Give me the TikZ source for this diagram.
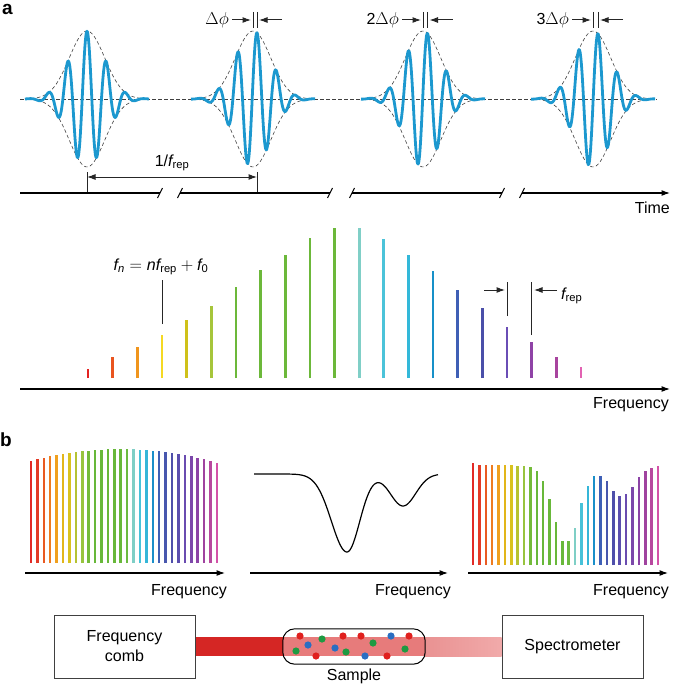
\documentclass[tikz,border=0pt]{standalone}
\usepackage{amsmath}
\usepackage{fontspec}
\setmainfont{Liberation Sans}
\usetikzlibrary{positioning,arrows.meta}

\definecolor{pulseblue}{HTML}{1C98CF}
\definecolor{beamred}{HTML}{D52624}
\definecolor{beamin}{HTML}{E77B7B}
\definecolor{molred}{HTML}{E0201E}
\definecolor{molblue}{HTML}{2A6EC2}
\definecolor{molgreen}{HTML}{1E9A42}

\newcommand{\fit}[1]{\textit{#1}}

\tikzset{
  axis/.style={line width=1.1pt},
  envelope/.style={dash pattern=on 3.5pt off 2.5pt, line width=0.6pt, black!75},
  pulse/.style={pulseblue, line width=2.8pt, line join=round},
  pointer/.style={line width=1pt, black!85},
  tooth/.style={line width=2.7pt},
  finetooth/.style={line width=2.5pt},
  box/.style={draw=black!75, line width=1pt, minimum width=141pt, minimum height=63pt, align=center},
  lbl/.style={inner sep=0pt}
}

\begin{document}
\begin{tikzpicture}[x=1pt, y=-1pt, font=\fontsize{16}{20}\selectfont, >={Latex[length=8.5pt,width=6pt]}]
  \useasboundingbox (0,0) rectangle (672,685);
  \node[lbl, font=\fontsize{19}{20}\bfseries] (pa) at (7.5,9) {a};
  \node[lbl, font=\fontsize{19}{20}\bfseries] (pb) at (6,440) {b};

  \draw[envelope] (20,99) -- (657,99);
  \foreach \c/\s in {87/0, 253/4, 423/4.5, 593/5} {
    \draw[envelope] plot[domain=\c-62:\c+62, samples=60] (\x, {99-68*exp(-pow((\x-\c)/25,2))});
    \draw[envelope] plot[domain=\c-62:\c+62, samples=60] (\x, {99+68*exp(-pow((\x-\c)/25,2))});
    \draw[pulse] plot[domain=\c-62:\c+62, samples=200] (\x, {99-68*exp(-pow((\x-\c)/25,2))*cos((\x-\c-\s)/19.3*360)});
  }

  \foreach \c/\s/\lab/\n in {253/4/{$\Delta\phi$}/1, 423/4.5/{2$\Delta\phi$}/2, 593/5/{3$\Delta\phi$}/3} {
    \coordinate (env\n) at (\c,12);
    \coordinate (car\n) at (\c+\s,12);
    \draw[pointer] (env\n) -- ++(0,16);
    \draw[pointer] (car\n) -- ++(0,16);
    \node[lbl, anchor=east] (dphi\n) at (\c-24,20) {\lab};
    \draw[pointer, ->] ([xshift=3pt]dphi\n.east) -- ([xshift=-2pt]env\n |- dphi\n.east);
    \draw[pointer, ->] ([xshift=25pt]car\n |- dphi\n.east) -- ([xshift=2pt]car\n |- dphi\n.east);
  }

  \coordinate (t0) at (87,193);
  \coordinate (t1) at (257,193);
  \draw[pointer] (t0) -- ++(0,-21);
  \draw[pointer] (t1) -- ++(0,-21);
  \draw[pointer, <->] ([yshift=16pt]t0) -- ([yshift=16pt]t1);
  \node[lbl] (period) at (172,163) {1/$\fit{f}_\text{rep}$};

  \foreach \a/\b in {20/160, 180/330, 352/502}
    \draw[axis] (\a,193) -- (\b,193);
  \draw[axis, ->] (522,193) -- (670,193);
  \foreach \u in {160, 180, 330, 352, 502, 522}
    \draw[axis] (\u-2.5,198) -- (\u+2.5,188);
  \node[lbl, anchor=north east] (time) at (670,202) {Time};

  \foreach \i/\t/\col in {0/369/E32322, 1/357/E9541F, 2/347/F0951D, 3/335/F5D923, 4/320/CFC11A,
      5/306/A6C53B, 6/287/6CB83A, 7/270/6CB83A, 8/255/6CB83A, 9/238/6CB83A, 10/228/6CB83A,
      11/228/80CFC7, 12/239/4BC3D9, 13/255/33B8D9, 14/271/1790C8, 15/290/3F5FB5, 16/308/4A4FA9,
      17/327/6A4DB5, 18/342/8F43A6, 19/357/A8449E, 20/367/E262B2} {
    \definecolor{tc}{HTML}{\col}
    \draw[tooth, tc] (88+24.65*\i,378) -- (88+24.65*\i,\t);
  }
  \draw[axis, ->] (20,389) -- (670,389);
  \node[lbl, anchor=north east] (freqa) at (669,397) {Frequency};

  \node[lbl] (fn) at (161,267) {$\fit{f}_\fit{n} = \fit{nf}_\text{rep} + \fit{f}_\text{0}$};
  \coordinate (m3) at (162,324);
  \draw[pointer, shorten >=5pt] (m3) -- (m3 |- fn.south);
  \coordinate (m17) at (507,316);
  \coordinate (m18) at (531,335);
  \draw[pointer] (m17) -- ++(0,-34);
  \draw[pointer] (m18) -- ++(0,-53);
  \coordinate (ga) at (507,290);
  \coordinate (gb) at (531,290);
  \draw[pointer, ->] ([xshift=-23pt]ga) -- ([xshift=-2pt]ga);
  \draw[pointer, ->] ([xshift=26pt]gb) -- ([xshift=3pt]gb);
  \node[lbl, anchor=west] (frep) at (561,296) {$\fit{f}_\text{rep}$};

  \foreach \i/\col/\t in {0/E22A26/463, 1/E33A26/465, 2/E95A22/465, 3/EE7C1F/465, 4/F0A01E/465,
      5/E2B61A/465, 6/D9C21E/465, 7/B6C332/466, 8/98C43E/466, 9/74BB3A/467, 10/68B83A/471,
      11/68B83A/481, 12/68B83A/499, 13/68B83A/522, 14/68B83A/541, 15/6CBA40/541, 16/7FCFC6/528,
      17/47C2D9/503, 18/35B6D8/486, 19/1A8FC9/476, 20/3E60B6/476, 21/4857AE/481, 22/4E4FAA/491,
      23/5B4EAE/496, 24/6A4CB0/494, 25/7C48AA/487, 26/8C43A6/477, 27/A0439F/471, 28/B8489E/468,
      29/D452A8/466} {
    \definecolor{bc}{HTML}{\col}
    \pgfmathsetmacro\ltop{449+0.061*(\i-14)^2}
    \draw[finetooth, bc] (31+6.41*\i,563) -- (31+6.41*\i,\ltop);
    \draw[finetooth, bc] (473+6.38*\i,565) -- (473+6.38*\i,\t);
  }

  \draw[line width=1.2pt] plot[domain=254:438, samples=160]
    (\x, {474+78*exp(-pow((\x-347)/(22*(\x<347)+18*(\x>=347)),2))+32*exp(-pow((\x-403)/18,2))});

  \draw[axis, ->] (25,573) -- (225,573);
  \draw[axis, ->] (250,573) -- (448,573);
  \draw[axis, ->] (468,573) -- (668,573);
  \node[lbl, anchor=north east] (freqb1) at (227,584) {Frequency};
  \node[lbl, anchor=north east] (freqb2) at (451,584) {Frequency};
  \node[lbl, anchor=north east] (freqb3) at (669,584) {Frequency};

  \node[box] (comb) at (124.5,646.5) {Frequency\\comb};
  \node[box] (spec) at (572.5,646.5) {Spectrometer};
  \node[minimum width=142pt, minimum height=35pt, inner sep=0pt] (sample) at (354,646.5) {};
  \fill[beamred] ([yshift=9.5pt]comb.east) rectangle ([yshift=-9.5pt]sample.west);
  \fill[beamin] ([yshift=9.5pt]sample.west) rectangle ([yshift=-9.5pt]sample.east);
  \shade[left color={rgb,255:red,233;green,146;blue,146}, right color={rgb,255:red,241;green,170;blue,170}]
    ([yshift=9.5pt]sample.east) rectangle ([yshift=-9.5pt]spec.west);
  \foreach \u/\v/\col in {300/636/molred, 316/656/molred, 343/636/molred, 361/636/molred,
      387/656/molred, 409/636/molred, 308/645/molblue, 335/648/molblue, 365/656/molblue,
      391/636/molblue, 322/639/molgreen, 296/651/molgreen, 346/652/molgreen, 373/643/molgreen,
      405/649/molgreen}
    \fill[\col] (\u,\v) circle (3.6pt);
  \draw[line width=1pt, rounded corners=12pt] (sample.south west) rectangle (sample.north east);
  \node[lbl, below=4pt of sample] (samplelbl) {Sample};
\end{tikzpicture}
\end{document}
